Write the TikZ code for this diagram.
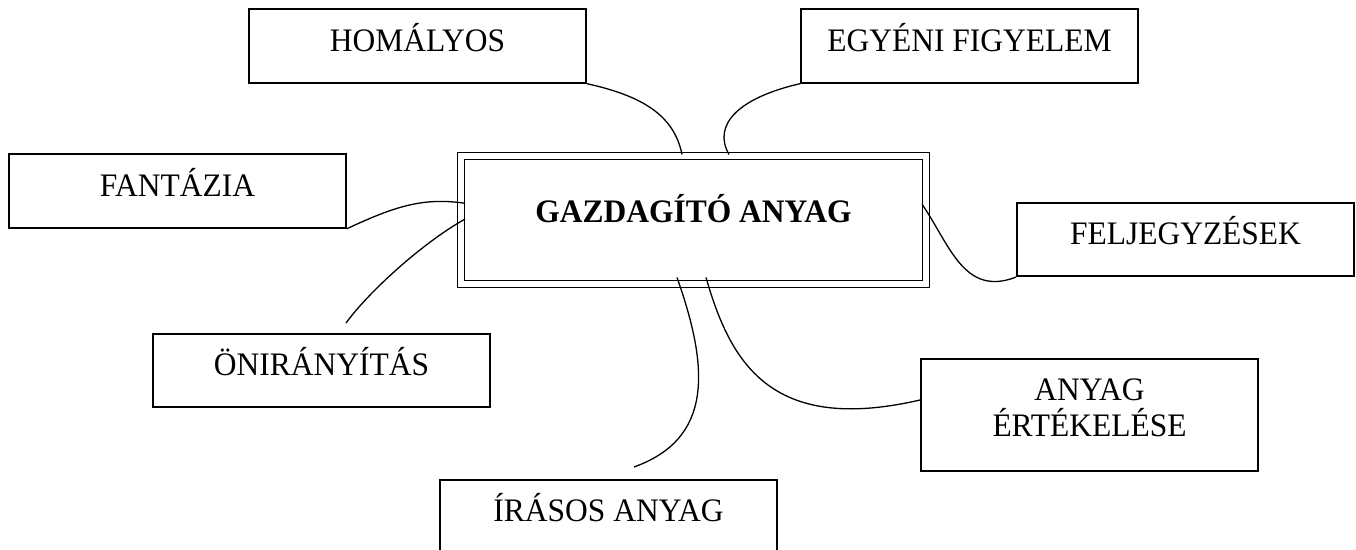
\documentclass[tikz,border=0pt]{standalone}
\usepackage{fontspec}
\setmainfont[FakeStretch=0.96]{Liberation Serif}
\usetikzlibrary{calc}

\begin{document}
\begin{tikzpicture}[x=0.5pt, y=-0.5pt,
  font=\fontsize{16.4pt}{18.35pt}\selectfont,
  box/.style={draw, line width=1pt, inner sep=0pt, minimum width=168.5pt, text height=20.9pt, text depth=15.8pt},
  link/.style={line width=0.65pt}]
\useasboundingbox (0,0) rectangle (1356,550);
\node (ctr) at (693.5,220.3) [draw, double, line width=0.5pt, double distance=3.2pt, inner sep=0pt, minimum width=232.5pt, text height=33.2pt, text depth=30.8pt, font=\fontsize{16.4pt}{18.35pt}\selectfont\bfseries] {GAZDAGÍTÓ ANYAG};
\node (hom) at (417.5,46) [box] {HOMÁLYOS};
\node (egy) at (969.5,46) [box] {EGYÉNI FIGYELEM};
\node (fan) at (177.5,191) [box] {FANTÁZIA};
\node (fel) at (1185.5,239.4) [box] {FELJEGYZÉSEK};
\node (oni) at (321.5,370.5) [box] {ÖNIRÁNYÍTÁS};
\node (ira) at (608.5,516.7) [box] {ÍRÁSOS ANYAG};
\node (any) at (1089.5,414.9) [box, align=center, text height=38.85pt, text depth=17pt] {ANYAG\\ÉRTÉKELÉSE};

\draw[link] (hom.south east) .. controls +(54,12) and +(-8,-40) .. ($(ctr.north)+(-11.5,-1.3)$);
\draw[link] (egy.south west) .. controls +(-61,14) and +(-17,-30) .. ($(ctr.north)+(35.5,-1.3)$);
\draw[link] (fan.south east) .. controls +(49,-23) and +(-41,-6) .. ($(ctr.west)+(4.6,-17)$);
\draw[link] ($(ctr.west)+(4.6,-1.3)$) .. controls +(-46,26) and +(20,-28) .. ($(oni.north)+(24.5,-9.7)$);
\draw[link] ($(ctr.east)+(-4.4,-16)$) .. controls +(28,41) and +(-52,20) .. (fel.south west);
\draw[link] ($(ctr.south)+(-16.5,-7.3)$) .. controls +(33,93) and +(78,-28) .. ($(ira.north)+(25.5,-12)$);
\draw[link] ($(ctr.south)+(12.5,-7.3)$) .. controls +(24,83) and +(-151,35) .. ($(any.west)+(0,-14.9)$);
\end{tikzpicture}
\end{document}
